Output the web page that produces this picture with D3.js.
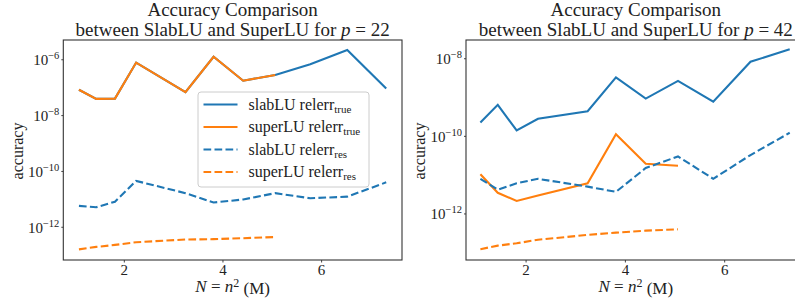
<!DOCTYPE html>
<html>
<head>
<meta charset="utf-8">
<script src="https://cdn.jsdelivr.net/npm/d3@7"></script>
<style>
  body { margin: 0; background: #fff; }
</style>
</head>
<body>
<div id="chart"></div>
<script>
const width = 795
const height = 301
const serif = "'Liberation Serif', 'DejaVu Serif', 'Times New Roman', serif"

// N = n^2 in millions
const N = [1.09, 1.44, 1.82, 2.25, 3.25, 3.82, 4.42, 5.07, 5.78, 6.53, 7.32]

// p = 22
const slabTrue22 = [8.1e-8, 3.8e-8, 3.9e-8, 7.6e-7, 6.6e-8, 1.23e-6, 1.7e-7, 2.75e-7, 6.6e-7, 2.14e-6, 8.9e-8]
const superTrue22 = [8.1e-8, 3.8e-8, 3.9e-8, 7.6e-7, 6.6e-8, 1.23e-6, 1.7e-7, 2.75e-7]
const slabRes22 = [5.6e-12, 5.0e-12, 7.9e-12, 4.4e-11, 1.6e-11, 7.4e-12, 9.5e-12, 1.6e-11, 1.05e-11, 1.2e-11, 3.9e-11]
const superRes22 = [1.55e-13, 1.9e-13, 2.24e-13, 2.8e-13, 3.5e-13, 3.6e-13, 3.9e-13, 4.3e-13]

// p = 42
const slabTrue42 = [2.2e-10, 6.3e-10, 1.38e-10, 2.75e-10, 4.3e-10, 3.2e-9, 9.1e-10, 2.6e-9, 7.6e-10, 8.1e-9, 1.7e-8]
const superTrue42 = [1.02e-11, 3.4e-12, 2.1e-12, 2.9e-12, 6.0e-12, 1.1e-10, 1.9e-11, 1.7e-11]
const slabRes42 = [7.8e-12, 4.1e-12, 6.0e-12, 7.8e-12, 4.9e-12, 3.6e-12, 1.48e-11, 2.95e-11, 7.8e-12, 3.2e-11, 1.2e-10]
const superRes42 = [1.2e-13, 1.48e-13, 1.7e-13, 2.1e-13, 2.8e-13, 3.2e-13, 3.6e-13, 3.9e-13]

const xTicks = [2, 4, 6]
const yTicks22 = [-6, -8, -10, -12]
const yTicks42 = [-8, -10, -12]
const legendNames = [["slabLU relerr", "true"], ["superLU relerr", "true"], ["slabLU relerr", "res"], ["superLU relerr", "res"]]

const blue = "#1f77b4"
const orange = "#ff7f0e"
const styles = [
  {color: blue, dash: null},
  {color: orange, dash: null},
  {color: blue, dash: "7.7,3.3"},
  {color: orange, dash: "7.7,3.3"}
]

const svg = d3.select("div#chart").append("svg").attr("width", width).attr("height", height)
  .attr("font-family", serif)

function panel(opts) {
  const g = svg.append("g")
  const x = d3.scaleLinear().domain(opts.xDomain).range([opts.left, opts.right])
  const y = d3.scaleLog().domain(opts.yDomain).range([opts.bottom, opts.top])

  const clipId = "clip" + opts.id
  svg.append("clipPath").attr("id", clipId).append("rect")
    .attr("x", opts.left).attr("y", opts.top)
    .attr("width", opts.right - opts.left).attr("height", opts.bottom - opts.top)

  const lineFunc = d3.line().x(d => x(d[0])).y(d => y(d[1]))
  const lines = g.append("g").attr("clip-path", `url(#${clipId})`)
  opts.series.forEach((vals, i) => {
    lines.append("path")
      .attr("d", lineFunc(vals.map((v, j) => [N[j], v])))
      .attr("fill", "none")
      .attr("stroke", styles[i].color)
      .attr("stroke-width", 2.1)
      .attr("stroke-dasharray", styles[i].dash)
  })

  // axes
  const xAxis = d3.axisBottom(x).tickValues(xTicks).tickSize(2.5).tickPadding(2).tickFormat(d3.format("d"))
  const xg = g.append("g").attr("transform", `translate(0, ${opts.bottom})`).call(xAxis)
    .attr("font-family", serif)
  xg.select(".domain").remove()
  xg.selectAll("line").attr("stroke", "#444")
  xg.selectAll("text").attr("font-size", 15).attr("fill", "#222")

  const yAxis = d3.axisLeft(y).tickValues(opts.yTicks.map(e => Math.pow(10, e))).tickSize(2).tickPadding(2).tickFormat("")
  const yg = g.append("g").attr("transform", `translate(${opts.left}, 0)`).call(yAxis)
    .attr("font-family", serif)
  yg.select(".domain").remove()
  yg.selectAll("line").attr("stroke", "#444")
  yg.selectAll(".tick").each(function(d) {
    const t = d3.select(this).select("text")
      .attr("font-size", 15).attr("fill", "#222").attr("dy", "0.35em")
    t.append("tspan").text("10")
    t.append("tspan").attr("dy", "-0.55em").attr("font-size", 10.5).text("\u2212" + Math.round(-Math.log10(d)))
  })

  // frame
  g.append("rect")
    .attr("x", opts.left).attr("y", opts.top)
    .attr("width", opts.right - opts.left).attr("height", opts.bottom - opts.top)
    .attr("fill", "none").attr("stroke", "#333").attr("stroke-width", 1.1)

  // titles
  const cx = (opts.left + opts.right) / 2
  g.append("text").attr("x", cx).attr("y", 16).attr("text-anchor", "middle").attr("font-size", 19)
    .attr("fill", "#222").text("Accuracy Comparison")
  const t2 = g.append("text").attr("x", cx).attr("y", 35.5).attr("text-anchor", "middle").attr("font-size", 19)
    .attr("fill", "#222")
  t2.append("tspan").text("between SlabLU and SuperLU for ")
  t2.append("tspan").attr("font-style", "italic").text("p")
  t2.append("tspan").text(" = " + opts.p)

  // axis labels
  const xl = g.append("text").attr("x", cx).attr("y", 292).attr("text-anchor", "middle").attr("font-size", 17)
    .attr("fill", "#222")
  xl.append("tspan").attr("font-style", "italic").text("N")
  xl.append("tspan").text(" = ")
  xl.append("tspan").attr("font-style", "italic").text("n")
  xl.append("tspan").attr("dy", "-0.45em").attr("font-size", 12).text("2")
  xl.append("tspan").attr("dy", "0.45em").text(" (M)")

  g.append("text")
    .attr("transform", `translate(${opts.ylabelX}, ${(opts.top + opts.bottom) / 2 + 1}) rotate(-90)`)
    .attr("text-anchor", "middle").attr("font-size", 16).attr("fill", "#222").text("accuracy")

  return {x, y}
}

panel({
  id: "a", p: 22, left: 63.3, right: 402, top: 40, bottom: 260,
  xDomain: [0.773, 7.64], yDomain: [Math.pow(10, -13.19), Math.pow(10, -5.31)],
  yTicks: yTicks22, ylabelX: 23,
  series: [slabTrue22, superTrue22, slabRes22, superRes22]
})

panel({
  id: "b", p: 42, left: 466, right: 805.6, top: 40, bottom: 260,
  xDomain: [0.80, 7.64], yDomain: [Math.pow(10, -13.2), Math.pow(10, -7.53)],
  yTicks: yTicks42, ylabelX: 425,
  series: [slabTrue42, superTrue42, slabRes42, superRes42]
})

// legend in left panel
const legend = svg.append("g").attr("transform", "translate(198, 92)")
legend.append("rect").attr("width", 171).attr("height", 95).attr("rx", 3)
  .attr("fill", "white").attr("fill-opacity", 0.85).attr("stroke", "#ccc").attr("stroke-width", 1)
legendNames.forEach((nm, i) => {
  const yy = 12.5 + i * 22.5
  legend.append("line").attr("x1", 5.5).attr("x2", 39.5).attr("y1", yy).attr("y2", yy)
    .attr("stroke", styles[i].color).attr("stroke-width", 2.1).attr("stroke-dasharray", styles[i].dash)
  const t = legend.append("text").attr("x", 50.5).attr("y", yy + 5).attr("font-size", 16).attr("fill", "#222")
  t.append("tspan").text(nm[0])
  t.append("tspan").attr("dy", "0.3em").attr("font-size", 11).text(nm[1])
})
</script>
</body>
</html>
